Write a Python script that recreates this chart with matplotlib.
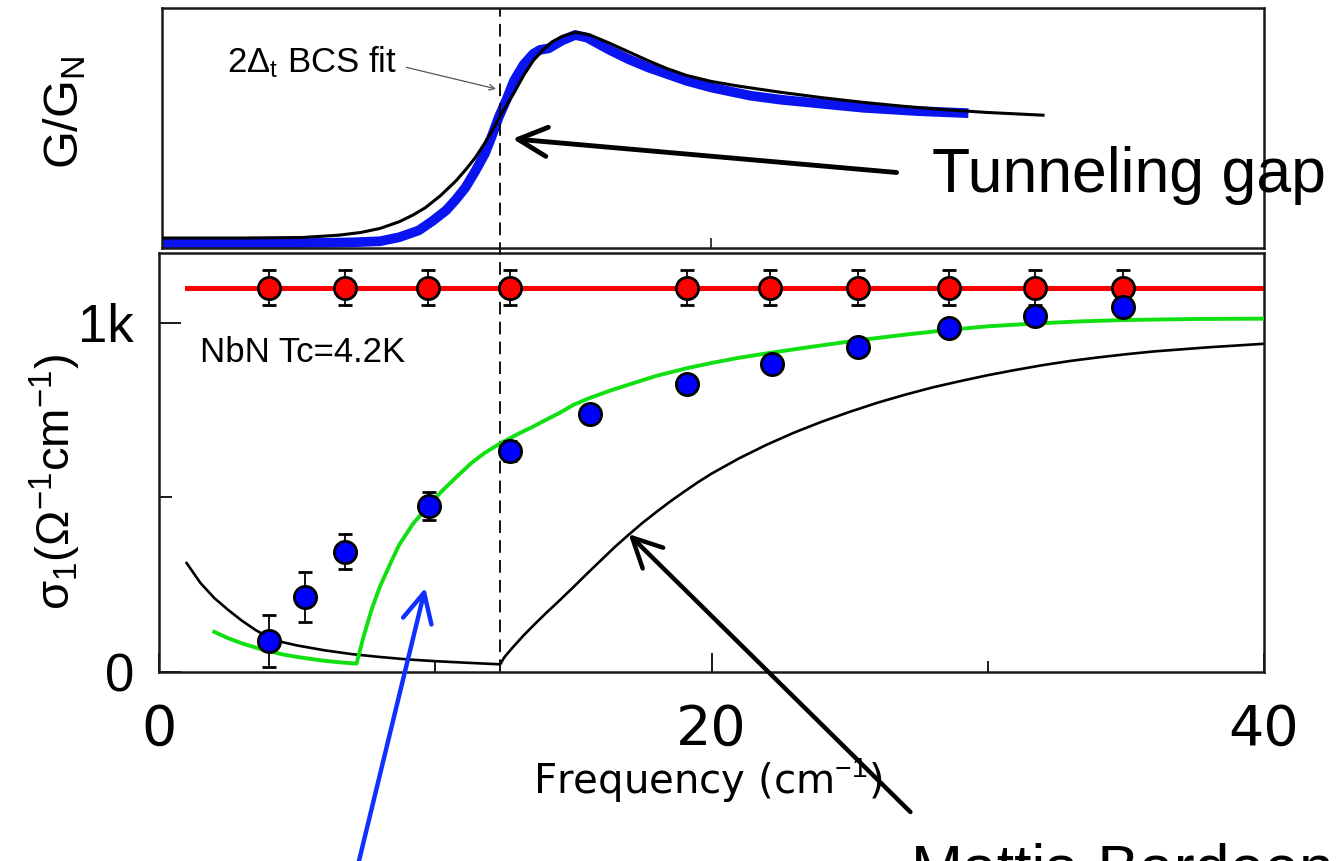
import matplotlib
matplotlib.use("Agg")
import matplotlib.pyplot as plt
from matplotlib.ticker import FixedLocator, NullFormatter, FixedFormatter

plt.rcParams['font.family'] = ['Liberation Sans', 'DejaVu Sans']
plt.rcParams['mathtext.fontset'] = 'custom'
plt.rcParams['mathtext.rm'] = 'Liberation Sans'
plt.rcParams['mathtext.it'] = 'Liberation Sans'
plt.rcParams['mathtext.bf'] = 'Liberation Sans:bold'

# ---------------- data ----------------
gap_freq = 12.35

# tunneling conductance (top panel)
bcs_fit_x = [0.1, 3.0, 5.2, 6.5, 7.3, 8.0, 8.7, 9.2, 9.65, 10.2, 10.76, 11.1, 11.45, 11.8,
             12.14, 12.5, 12.85, 13.2, 13.55, 13.9, 14.24, 14.6, 15.07, 15.6, 16.3, 17.0,
             17.7, 18.4, 19.1, 20.0, 21.0, 22.5, 24.0, 25.5, 27.0, 28.5, 30.0, 32.0]
bcs_fit_y = [0.074, 0.074, 0.078, 0.095, 0.115, 0.145, 0.195, 0.245, 0.30, 0.39, 0.50, 0.58,
             0.67, 0.78, 0.90, 1.03, 1.15, 1.28, 1.39, 1.47, 1.53, 1.57, 1.60, 1.58, 1.52,
             1.455, 1.39, 1.33, 1.28, 1.235, 1.20, 1.155, 1.115, 1.08, 1.05, 1.025, 1.005, 0.985]

tunnel_x = [0.1, 4.0, 6.0, 7.0, 8.0, 8.7, 9.4, 9.9, 10.4, 10.75, 11.1, 11.45, 11.8, 12.05,
            12.3, 12.6, 12.85, 13.2, 13.55, 13.8, 14.1, 14.35, 14.6, 15.07, 15.5, 16.3,
            17.0, 17.7, 18.4, 19.1, 20.0, 21.4, 22.5, 24.0, 25.5, 27.5, 29.3]
tunnel_y = [0.035, 0.035, 0.038, 0.042, 0.05, 0.08, 0.13, 0.20, 0.28, 0.36, 0.45, 0.57, 0.70,
            0.83, 0.97, 1.11, 1.24, 1.36, 1.44, 1.47, 1.48, 1.51, 1.54, 1.58, 1.56, 1.47,
            1.40, 1.34, 1.29, 1.24, 1.19, 1.13, 1.10, 1.07, 1.04, 1.015, 1.0]

# optical conductivity (bottom panel)
normal_x = [3.99, 6.74, 9.75, 12.7, 19.1, 22.1, 25.3, 28.6, 31.7, 34.9]
normal_y = [1100, 1100, 1100, 1100, 1100, 1100, 1100, 1100, 1100, 1100]
normal_err = [50, 50, 50, 50, 50, 50, 50, 50, 50, 50]
normal_line_x = [1.0, 40.0]
normal_line_y = [1100, 1100]

sc_x = [3.99, 5.29, 6.74, 9.78, 12.72, 15.6, 19.1, 22.2, 25.3, 28.6, 31.7, 34.9]
sc_y = [89, 215, 344, 476, 633, 739, 825, 883, 931, 986, 1020, 1046]
sc_err = [75, 72, 50, 40, 30, 25, 22, 22, 22, 22, 22, 22]

green_x = [2.0, 2.5, 3.0, 3.84, 4.5, 5.0, 5.9, 6.5, 7.15, 7.4, 7.7, 8.0, 8.4, 8.7, 9.2,
           9.78, 10.2, 10.76, 11.3, 11.8, 12.36, 13.0, 13.55, 14.0, 14.5, 15.0, 15.6,
           16.3, 17.0, 18.0, 19.1, 20.0, 21.0, 22.2, 23.5, 25.3, 27.0, 28.6, 30.0,
           31.7, 33.3, 34.9, 37.5, 40.0]
green_y = [115, 97, 82, 62, 50, 43, 33, 28, 24, 100, 180, 245, 315, 365, 425,
           478, 515, 558, 598, 628, 655, 682, 703, 722, 742, 765, 785,
           805, 823, 848, 870, 885, 900, 915, 930, 950, 966, 980, 990,
           998, 1004, 1008, 1011, 1012]

mb_x = [1.0, 1.5, 2.0, 2.5, 3.0, 3.5, 4.0, 4.5, 5.0, 6.0, 7.0, 8.0, 9.0, 10.0, 11.0, 12.35,
        12.5, 12.8, 13.2, 13.6, 14.0, 14.5, 15.0, 15.5, 16.0, 16.5, 17.0, 17.5, 18.0,
        18.5, 19.0, 19.5, 20.0, 21.0, 22.0, 23.0, 24.0, 25.0, 26.0, 27.0, 28.0, 29.0,
        30.0, 31.0, 32.0, 33.0, 34.0, 35.0, 36.0, 38.0, 40.0]
mb_y = [312, 255, 212, 178, 147, 120, 98, 85, 76, 62, 51, 43, 36, 31, 27, 22,
        42, 70, 105, 137, 168, 205, 243, 282, 320, 358, 393, 427, 458,
        488, 516, 543, 568, 612, 651, 686, 717, 745, 771, 794, 815, 833,
        850, 865, 879, 891, 901, 910, 918, 930, 940]

x_ticks = [0, 20, 40]
x_ticklabels = ['0', '20', '40']
y_ticks = [0, 1000]
y_ticklabels = ['0', '1k']

# ---------------- figure ----------------
W, H = 1338, 861
fig = plt.figure(figsize=(W / 100, H / 100), dpi=100)

def box(l, t, r, b):
    return [l / W, 1 - b / H, (r - l) / W, (b - t) / H]

ax_t = fig.add_axes(box(162, 8, 1264, 248))
ax_b = fig.add_axes(box(159, 253, 1264, 672))

frame_c = '#1a1a1a'
for ax in (ax_t, ax_b):
    for s in ax.spines.values():
        s.set_linewidth(1.8)
        s.set_color(frame_c)

# ---- top panel ----
ax_t.plot(tunnel_x, tunnel_y, color='#0a14f0', lw=7, solid_capstyle='butt', zorder=2)
ax_t.plot(bcs_fit_x, bcs_fit_y, color='black', lw=2.2, zorder=3)
ax_t.axvline(gap_freq, ymin=-0.03, ymax=1, color='black', lw=1.3, dashes=(7, 4), clip_on=False)
ax_t.set_xlim(0.11, 40)
ax_t.set_ylim(0, 1.78)
ax_t.set_yticks([])
ax_t.xaxis.set_major_locator(FixedLocator([20]))
ax_t.xaxis.set_major_formatter(NullFormatter())
ax_t.tick_params(axis='x', direction='in', length=7, width=1.2, color=frame_c)

ax_t.annotate('', xy=(12.2, 1.18), xytext=(8.95, 1.34),
              arrowprops=dict(arrowstyle='->', color='#555555', lw=0.9,
                              mutation_scale=10, shrinkA=0, shrinkB=0))
ax_t.text(2.46, 1.30, r'2$\Delta_\mathrm{t}$ BCS fit', fontsize=25, va='baseline', ha='left')

ax_t.annotate('', xy=(12.8, 0.81), xytext=(26.7, 0.56), annotation_clip=False,
              arrowprops=dict(arrowstyle='->, head_length=0.7, head_width=0.35', color='black',
                              lw=3.5, mutation_scale=30, shrinkA=0, shrinkB=0))
ax_t.text(28.0, 0.415, 'Tunneling gap', fontsize=45, va='baseline', ha='left', clip_on=False)

# ---- bottom panel ----
ax_b.plot(normal_line_x, normal_line_y, color='#ff0000', lw=3.6, zorder=2)
ax_b.plot(mb_x, mb_y, color='black', lw=1.9, zorder=2)
ax_b.plot(green_x, green_y, color='#10e010', lw=2.8, zorder=3)
ax_b.axvline(gap_freq, color='black', lw=1.3, dashes=(7, 4), zorder=1)
ax_b.errorbar(normal_x, normal_y, yerr=normal_err, fmt='o', color='black', ecolor='black',
              elinewidth=1.3, capsize=5, capthick=1.3, markersize=16,
              markerfacecolor='#ff0000', markeredgecolor='black', markeredgewidth=2, zorder=5)
ax_b.errorbar(sc_x, sc_y, yerr=sc_err, fmt='o', color='black', ecolor='black',
              elinewidth=1.3, capsize=5, capthick=1.3, markersize=16,
              markerfacecolor='#0000ff', markeredgecolor='black', markeredgewidth=2, zorder=5)

ax_b.set_xlim(0, 40)
ax_b.set_ylim(0, 1200)
ax_b.xaxis.set_major_locator(FixedLocator(x_ticks))
ax_b.xaxis.set_major_formatter(FixedFormatter(x_ticklabels))
ax_b.xaxis.set_minor_locator(FixedLocator([10, 30]))
ax_b.yaxis.set_major_locator(FixedLocator(y_ticks))
ax_b.yaxis.set_major_formatter(FixedFormatter(y_ticklabels))
ax_b.yaxis.set_minor_locator(FixedLocator([500]))
ax_b.tick_params(axis='x', which='major', direction='in', length=14, width=1.4, pad=22,
                 labelsize=40, color=frame_c)
ax_b.tick_params(axis='x', which='minor', direction='in', length=8, width=1.4, color=frame_c)
ax_b.tick_params(axis='y', which='major', direction='in', length=16, width=1.4, pad=18,
                 labelsize=38, color=frame_c)
ax_b.tick_params(axis='y', which='minor', direction='in', length=9, width=1.4, color=frame_c)
for lab in ax_b.get_xticklabels():
    lab.set_fontfamily('DejaVu Sans')

ax_b.text(1.5, 915, 'NbN Tc=4.2K', fontsize=25, va='center', ha='left')

ax_b.annotate('', xy=(17.0, 395), xytext=(27.2, -401), annotation_clip=False,
              arrowprops=dict(arrowstyle='->, head_length=0.7, head_width=0.35', color='black',
                              lw=3.2, mutation_scale=30, shrinkA=0, shrinkB=0))
ax_b.annotate('', xy=(9.64, 241), xytext=(7.15, -570), annotation_clip=False,
              arrowprops=dict(arrowstyle='->, head_length=0.7, head_width=0.35', color='#1030ff',
                              lw=3.2, mutation_scale=30, shrinkA=0, shrinkB=0))
ax_b.text(27.2, -619, 'Mattis-Bardeen', fontsize=45, va='baseline', ha='left', clip_on=False)

# axis labels
fig.text(65 / W, 1 - 112 / H, r'G/G$_\mathrm{N}$', rotation=90, fontsize=35,
         ha='center', va='center')
fig.text(55 / W, 1 - 482 / H, r'$\sigma_1$($\Omega^{-1}$cm$^{-1}$)', rotation=90, fontsize=34,
         ha='center', va='center')
fig.text(708 / W, 1 - 780 / H, r'Frequency (cm$^{-1}$)', fontsize=29, ha='center', va='center',
         fontfamily='DejaVu Sans')

fig.savefig('out.png', dpi=100)
